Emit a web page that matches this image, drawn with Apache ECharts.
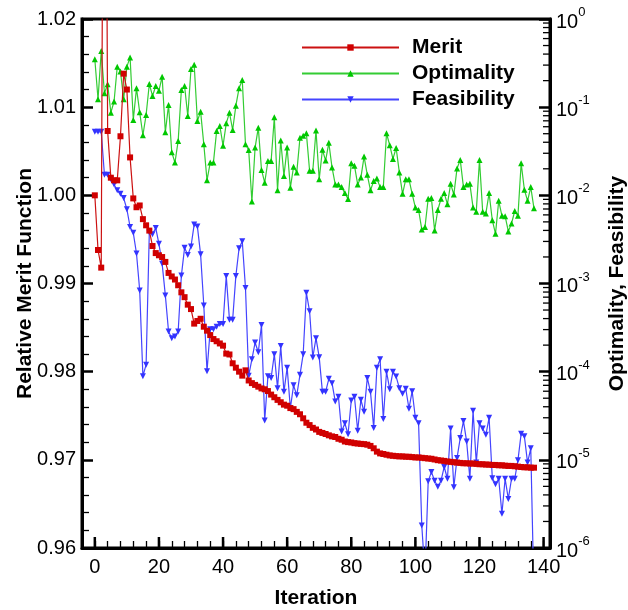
<!DOCTYPE html>
<html>
<head>
<meta charset="utf-8">
<script src="https://cdn.jsdelivr.net/npm/echarts@6/dist/echarts.min.js"></script>
<style>
  html, body { margin: 0; padding: 0; background: #fff; }
  #chart { width: 628px; height: 610px; }
</style>
</head>
<body>
<div id="chart"></div>
<script>
// ---- Data ----
const seriesNames = ['Merit', 'Optimality', 'Feasibility'];

// Relative merit function (left axis)
const merit = [
  1.0000, 0.9938, 0.9918, 1.08, 1.0073, 1.0020, 1.0017, 1.0017, 1.0067, 1.0138,
  1.0120, 1.0043, 0.99965, 0.99865, 0.99885, 0.9973, 0.9966, 0.9960, 0.99425, 0.99345,
  0.9932, 0.9930, 0.99245, 0.9912, 0.9908, 0.99045, 0.9898, 0.9890, 0.98845, 0.9876,
  0.9871, 0.98545, 0.98575, 0.9860, 0.9851, 0.98465, 0.98415, 0.9837, 0.98345, 0.9832,
  0.98295, 0.98205, 0.98195, 0.98095, 0.98045, 0.9800, 0.97955, 0.98015, 0.9790, 0.9787,
  0.9785, 0.9783, 0.9781, 0.9780, 0.9778, 0.9774, 0.9771, 0.9768, 0.97653, 0.97626,
  0.97614, 0.97587, 0.97575, 0.97544, 0.97517, 0.97471, 0.97421, 0.97394, 0.97363, 0.97344,
  0.97317, 0.97305, 0.97293, 0.97278, 0.97266, 0.97259, 0.97239, 0.97228, 0.97208, 0.97201,
  0.97197, 0.97189, 0.97185, 0.97181, 0.97178, 0.97172, 0.97158, 0.97131, 0.97093, 0.97073,
  0.97066, 0.97058, 0.97050, 0.97046, 0.97042, 0.97039, 0.97039, 0.97035, 0.97035, 0.97031,
  0.97027, 0.97027, 0.97023, 0.97019, 0.97015, 0.97012, 0.97004, 0.96996, 0.96992, 0.96988,
  0.96981, 0.96977, 0.96973, 0.96969, 0.96965, 0.96961, 0.96961, 0.96958, 0.96958, 0.96954,
  0.96950, 0.96950, 0.96946, 0.96946, 0.96942, 0.96942, 0.96938, 0.96938, 0.96934, 0.96931,
  0.96931, 0.96927, 0.96923, 0.96919, 0.96915, 0.96915, 0.96911, 0.96911
];

// Optimality (right, log axis)
const optimality = [
  0.349, 0.123, 0.434, 0.144, 0.182, 0.0867, 0.116, 0.288, 0.253, 0.123,
  0.288, 0.367, 0.0716, 0.164, 0.0873, 0.048, 0.0817, 0.183, 0.134, 0.174,
  0.154, 0.222, 0.0519, 0.106, 0.0308, 0.0235, 0.0414, 0.157, 0.174, 0.0794,
  0.271, 0.303, 0.0698, 0.0889, 0.0379, 0.0148, 0.0235, 0.0235, 0.0537, 0.0612,
  0.0366, 0.0656, 0.0867, 0.0551, 0.104, 0.164, 0.203, 0.0379, 0.0327, 0.00853,
  0.0348, 0.0586, 0.0194, 0.0139, 0.0245, 0.0245, 0.0767, 0.0114, 0.0418, 0.0166,
  0.0348, 0.0122, 0.0211, 0.0182, 0.045, 0.0474, 0.0505, 0.019, 0.019, 0.0542,
  0.0152, 0.0329, 0.0248, 0.0394, 0.0207, 0.0133, 0.0133, 0.0124, 0.0106, 0.00908,
  0.0231, 0.0217, 0.0133, 0.0159, 0.0275, 0.0171, 0.0114, 0.0145, 0.0155, 0.0124,
  0.0124, 0.0505, 0.037, 0.0259, 0.0344, 0.0182, 0.0104, 0.0152, 0.0152, 0.0104,
  0.00726, 0.00682, 0.00411, 0.00438, 0.00914, 0.00931, 0.004, 0.00682, 0.00914, 0.0106,
  0.00794, 0.0135, 0.0102, 0.0202, 0.0252, 0.0124, 0.0133, 0.0135, 0.00726, 0.00653,
  0.0252, 0.00653, 0.00624, 0.0106, 0.00522, 0.00366, 0.00867, 0.00586, 0.00581, 0.0039,
  0.00479, 0.00664, 0.00586, 0.0231, 0.0116, 0.00867, 0.0124, 0.00713
];

// Feasibility (right, log axis)
const feasibility = [
  0.0525, 0.0525, 0.0525, 0.0171, 0.0171, 0.0152, 0.0133, 0.0114, 0.0104, 0.0093,
  0.00695, 0.00438, 0.00376, 0.00219, 0.000832, 8.9e-5, 1.2e-4, 0.0038, 0.00363, 0.00427,
  0.00282, 0.00168, 0.000733, 0.000285, 0.00024, 0.000251, 0.000285, 0.00123, 0.00254, 0.00211,
  0.00263, 0.00468, 0.00442, 0.00214, 0.000562, 0.000101, 0.000302, 0.000302, 0.000324, 0.000347,
  0.000347, 0.00122, 0.000389, 0.000389, 0.00122, 0.00251, 0.00302, 0.000891, 9.0e-5, 0.000138,
  0.000214, 0.000166, 0.000339, 2.8e-5, 8.9e-5, 8.5e-5, 0.000158, 6.5e-5, 0.000195, 5.9e-5,
  0.000111, 3.85e-5, 7.0e-5, 5.4e-5, 9.2e-5, 0.000158, 0.000785, 0.000484, 0.000145, 0.00024,
  0.000146, 5.9e-5, 5.9e-5, 8.3e-5, 7.4e-5, 4.6e-5, 5.2e-5, 2.1e-5, 2.6e-5, 1.95e-5,
  4.7e-5, 5.2e-5, 2.14e-5, 4.8e-5, 3.5e-5, 8.5e-5, 5.9e-5, 2.3e-5, 0.000111, 0.000138,
  2.9e-5, 0.0001, 6.3e-5, 0.0001, 8.8e-5, 6.5e-5, 5.6e-5, 6.4e-5, 3.8e-5, 6.0e-5,
  3.0e-5, 2.6e-5, 1.8e-6, 5e-7, 5.7e-6, 7.3e-6, 5.8e-6, 4.95e-6, 5.8e-6, 8.3e-6,
  6.1e-6, 2.26e-5, 4.9e-6, 1.05e-5, 1.77e-5, 2.75e-5, 1.61e-5, 6.1e-6, 3.6e-5, 9.3e-6,
  2.6e-5, 2.26e-5, 1.93e-5, 3.0e-5, 6.2e-6, 5.3e-6, 6.1e-6, 2.45e-6, 6.1e-6, 3.6e-6,
  6.1e-6, 6.1e-6, 9.9e-6, 1.98e-5, 1.85e-5, 9.3e-6, 1.35e-5, 3e-7
];

// Iteration numbers (x)
const iterations = merit.map((_, i) => i);

// Axis ticks
const xMajorTicks = [0, 20, 40, 60, 80, 100, 120, 140];
const logDecades = [1e-6, 1e-5, 1e-4, 1e-3, 1e-2, 1e-1];
const logMinorMultipliers = [2, 3, 4, 5, 6, 7, 8, 9];

// ---- Chart ----
const X_MIN = -4, X_MAX = 142;
const FONT = "'Liberation Sans', Arial, Helvetica, sans-serif";

const logMinorTicks = [];
logDecades.forEach(d => logMinorMultipliers.forEach(m => logMinorTicks.push(d * m)));

function pairs(ys) { return iterations.map((x, i) => [x, ys[i]]); }

const chart = echarts.init(document.getElementById('chart'), null, { renderer: 'canvas' });

const option = {
  animation: false,
  backgroundColor: '#ffffff',
  textStyle: { fontFamily: FONT },
  grid: {
    left: 82, right: 78, top: 19, bottom: 62,
    outerBoundsMode: 'none', containLabel: false,
    show: true, borderColor: '#000', borderWidth: 3, backgroundColor: 'transparent'
  },
  legend: {
    orient: 'vertical',
    left: 296, top: 32, padding: 5,
    itemWidth: 97, itemHeight: 8, itemGap: 5,
    data: seriesNames,
    selectedMode: false,
    textStyle: { fontFamily: FONT, fontSize: 21, fontWeight: 'bold', color: '#000', padding: [0, 0, 0, 8], lineHeight: 21 }
  },
  xAxis: {
    type: 'value', min: X_MIN, max: X_MAX, interval: 4,
    name: 'Iteration', nameLocation: 'middle', nameGap: 40, nameMoveOverlap: false,
    nameTextStyle: { fontFamily: FONT, fontSize: 21, fontWeight: 'bold', color: '#000' },
    axisLine: { show: true, onZero: false, lineStyle: { color: '#000', width: 3 } },
    axisTick: { show: true, inside: true, length: 7, lineStyle: { color: '#000', width: 1.3 } },
    axisLabel: {
      fontFamily: FONT, fontSize: 20, color: '#000', margin: 9,
      formatter: v => (xMajorTicks.indexOf(v) >= 0 ? String(v) : '')
    },
    splitLine: { show: false }
  },
  yAxis: [
    {
      type: 'value', min: 0.96, max: 1.02, interval: 0.01, position: 'left',
      name: 'Relative Merit Function', nameLocation: 'middle', nameGap: 46, nameRotate: 90,
      nameMoveOverlap: false,
      nameTextStyle: { fontFamily: FONT, fontSize: 21, fontWeight: 'bold', color: '#000' },
      axisLine: { show: true, onZero: false, lineStyle: { color: '#000', width: 3 } },
      axisTick: { show: true, inside: true, length: 11, lineStyle: { color: '#000', width: 2.5 } },
      minorTick: { show: true, splitNumber: 5, length: 7, lineStyle: { color: '#000', width: 1.3 } },
      axisLabel: { fontFamily: FONT, fontSize: 20, color: '#000', margin: 6, formatter: v => v.toFixed(2) },
      splitLine: { show: false }, minorSplitLine: { show: false }
    },
    {
      type: 'log', logBase: 10, min: 1e-6, max: 1, position: 'right',
      name: 'Optimality, Feasibility', nameLocation: 'middle', nameGap: 57, nameRotate: 90,
      nameMoveOverlap: false,
      nameTextStyle: { fontFamily: FONT, fontSize: 21, fontWeight: 'bold', color: '#000' },
      axisLine: { show: true, onZero: false, lineStyle: { color: '#000', width: 3 } },
      axisTick: { show: true, inside: true, length: 11, lineStyle: { color: '#000', width: 2.5 } },
      axisLabel: {
        fontFamily: FONT, color: '#000', margin: 6,
        formatter: v => '{b|10}{s|' + Math.round(Math.log10(v)) + '}',
        rich: {
          b: { fontFamily: FONT, fontSize: 20, color: '#000', lineHeight: 26, verticalAlign: 'bottom' },
          s: { fontFamily: FONT, fontSize: 13, color: '#000', lineHeight: 13, verticalAlign: 'top' }
        }
      },
      splitLine: { show: false }
    }
  ],
  series: [
    {
      name: 'Merit', type: 'line', xAxisIndex: 0, yAxisIndex: 0,
      data: pairs(merit),
      symbol: 'rect', symbolSize: 6, showSymbol: true,
      lineStyle: { color: '#cc1111', width: 1.2 },
      itemStyle: { color: '#d00000' },
      emphasis: { disabled: true }, silent: true, z: 4
    },
    {
      name: 'Optimality', type: 'line', xAxisIndex: 0, yAxisIndex: 1,
      data: pairs(optimality),
      symbol: 'triangle', symbolSize: 6, showSymbol: true,
      lineStyle: { color: '#33cc33', width: 1.2 },
      itemStyle: { color: '#00c800' },
      emphasis: { disabled: true }, silent: true, z: 3
    },
    {
      name: 'Feasibility', type: 'line', xAxisIndex: 0, yAxisIndex: 1,
      data: pairs(feasibility),
      symbol: 'triangle', symbolRotate: 180, symbolSize: 6, showSymbol: true,
      lineStyle: { color: '#4444ff', width: 1.2 },
      itemStyle: { color: '#3333ff' },
      emphasis: { disabled: true }, silent: true, z: 3
    },
    {
      // long (major) ticks on the iteration axis
      name: 'xMajorTicks', type: 'custom', xAxisIndex: 0, yAxisIndex: 0, silent: true, z: 6,
      data: xMajorTicks.map(v => [v, 0.96]),
      renderItem: (params, api) => {
        const p = api.coord([api.value(0), api.value(1)]);
        return { type: 'line', shape: { x1: p[0], y1: p[1], x2: p[0], y2: p[1] - 11 },
                 style: { stroke: '#000', lineWidth: 2.5 } };
      }
    },
    {
      // logarithmic minor ticks on the right axis
      name: 'logMinorTicks', type: 'custom', xAxisIndex: 0, yAxisIndex: 1, silent: true, z: 6,
      data: logMinorTicks.map(v => [X_MAX, v]),
      renderItem: (params, api) => {
        const p = api.coord([api.value(0), api.value(1)]);
        return { type: 'line', shape: { x1: p[0], y1: p[1], x2: p[0] - 7, y2: p[1] },
                 style: { stroke: '#000', lineWidth: 1.3 } };
      }
    }
  ]
};

chart.setOption(option);
</script>
</body>
</html>
